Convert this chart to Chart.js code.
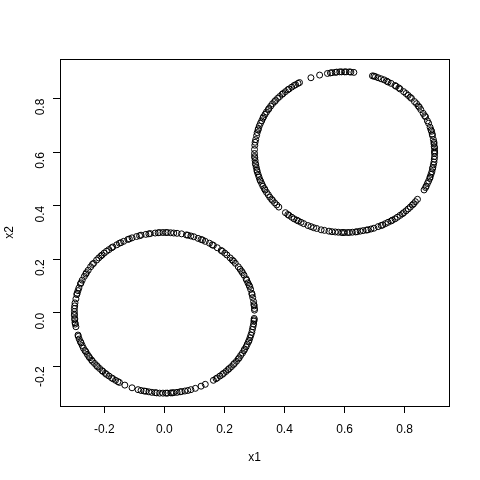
<!DOCTYPE html>
<html>
<head>
<meta charset="utf-8">
<script src="https://cdn.jsdelivr.net/npm/chart.js@4/dist/chart.umd.min.js"></script>
<style>
  html, body { margin: 0; padding: 0; background: #ffffff; }
  #wrap { width: 480px; height: 480px; }
</style>
</head>
<body>
<div id="wrap"><canvas id="chart" width="480" height="480"></canvas></div>
<script>
// points, [x1, x2]
const lowerRing = [
  [0.300,0.010],[0.300,0.016],[0.299,0.026],[0.298,0.031],[0.297,0.042],[0.294,0.057],[0.292,0.068],[0.291,0.073],
  [0.287,0.088],[0.284,0.098],[0.282,0.103],[0.278,0.112],[0.274,0.122],[0.272,0.127],[0.265,0.141],[0.260,0.150],
  [0.257,0.155],[0.252,0.163],[0.246,0.172],[0.236,0.185],[0.230,0.193],[0.226,0.197],[0.219,0.205],[0.208,0.216],
  [0.201,0.223],[0.193,0.230],[0.189,0.233],[0.176,0.243],[0.163,0.252],[0.159,0.254],[0.150,0.260],[0.136,0.267],
  [0.127,0.272],[0.122,0.274],[0.112,0.278],[0.098,0.284],[0.088,0.287],[0.078,0.290],[0.073,0.291],[0.057,0.295],
  [0.042,0.297],[0.031,0.298],[0.021,0.299],[0.010,0.300],[0.005,0.300],
  [-0.005,0.300],[-0.016,0.300],[-0.021,0.299],[-0.031,0.298],[-0.047,0.296],[-0.052,0.295],[-0.062,0.293],[-0.078,0.290],
  [-0.083,0.288],[-0.093,0.285],[-0.108,0.280],[-0.117,0.276],[-0.122,0.274],[-0.136,0.267],[-0.145,0.262],[-0.150,0.260],
  [-0.159,0.254],[-0.172,0.246],[-0.176,0.243],[-0.185,0.236],[-0.193,0.230],[-0.201,0.223],[-0.208,0.216],[-0.212,0.212],
  [-0.219,0.205],[-0.226,0.197],[-0.236,0.185],[-0.240,0.181],[-0.246,0.172],[-0.254,0.159],[-0.260,0.150],[-0.262,0.145],
  [-0.267,0.136],[-0.274,0.122],[-0.278,0.112],[-0.280,0.108],[-0.285,0.093],[-0.288,0.083],[-0.291,0.073],[-0.292,0.068],
  [-0.295,0.052],[-0.298,0.037],[-0.299,0.026],[-0.300,0.016],[-0.300,0.005],
  [-0.300,-0.005],[-0.300,-0.010],[-0.299,-0.021],[-0.299,-0.026],[-0.298,-0.037],[-0.297,-0.042],[-0.295,-0.052],[-0.288,-0.083],
  [-0.287,-0.088],[-0.284,-0.098],[-0.280,-0.108],[-0.278,-0.112],[-0.274,-0.122],[-0.270,-0.132],[-0.265,-0.141],[-0.262,-0.145],
  [-0.257,-0.155],[-0.252,-0.163],[-0.249,-0.168],[-0.243,-0.176],[-0.240,-0.181],[-0.233,-0.189],[-0.226,-0.197],[-0.223,-0.201],
  [-0.216,-0.208],[-0.208,-0.216],[-0.205,-0.219],[-0.197,-0.226],[-0.193,-0.230],[-0.185,-0.236],[-0.176,-0.243],[-0.172,-0.246],
  [-0.163,-0.252],[-0.155,-0.257],[-0.150,-0.260],[-0.132,-0.270],[-0.108,-0.280],[-0.088,-0.287],[-0.078,-0.290],[-0.068,-0.292],
  [-0.062,-0.293],[-0.052,-0.295],[-0.042,-0.297],[-0.031,-0.298],[-0.026,-0.299],[-0.016,-0.300],[-0.005,-0.300],
  [0.005,-0.300],[0.010,-0.300],[0.021,-0.299],[0.026,-0.299],[0.031,-0.298],[0.042,-0.297],[0.052,-0.295],[0.057,-0.294],
  [0.068,-0.292],[0.078,-0.290],[0.088,-0.287],[0.103,-0.282],[0.122,-0.274],[0.136,-0.267],[0.163,-0.252],[0.172,-0.246],
  [0.176,-0.243],[0.185,-0.236],[0.193,-0.230],[0.197,-0.226],[0.205,-0.219],[0.212,-0.212],[0.216,-0.208],[0.223,-0.201],
  [0.230,-0.193],[0.233,-0.189],[0.240,-0.181],[0.246,-0.172],[0.249,-0.168],[0.254,-0.159],[0.260,-0.150],[0.265,-0.141],
  [0.267,-0.136],[0.272,-0.127],[0.276,-0.117],[0.280,-0.108],[0.282,-0.103],[0.285,-0.093],[0.288,-0.083],[0.291,-0.073],
  [0.293,-0.062],[0.295,-0.052],[0.297,-0.042],[0.298,-0.031],[0.299,-0.026],[0.299,-0.021]
];

const upperRing = [
  [0.900,0.600],[0.900,0.605],[0.900,0.616],[0.899,0.621],[0.898,0.631],[0.898,0.637],[0.896,0.647],[0.893,0.662],
  [0.892,0.668],[0.890,0.678],[0.888,0.683],[0.885,0.693],[0.880,0.708],[0.876,0.717],[0.870,0.732],[0.867,0.736],
  [0.862,0.745],[0.854,0.759],[0.849,0.768],[0.846,0.772],[0.840,0.781],[0.833,0.789],[0.823,0.801],[0.819,0.805],
  [0.812,0.812],[0.805,0.819],[0.797,0.826],[0.785,0.836],[0.781,0.840],[0.772,0.846],[0.768,0.849],[0.755,0.857],
  [0.745,0.862],[0.741,0.865],[0.732,0.870],[0.722,0.874],[0.712,0.878],[0.703,0.882],[0.698,0.884],[0.693,0.885],
  [0.631,0.898],[0.621,0.899],[0.616,0.900],[0.605,0.900],
  [0.600,0.900],[0.590,0.900],[0.584,0.900],[0.574,0.899],[0.569,0.898],[0.558,0.897],[0.553,0.896],[0.543,0.894],
  [0.517,0.888],[0.488,0.878],[0.450,0.860],[0.445,0.857],[0.437,0.852],[0.432,0.849],[0.424,0.843],[0.415,0.836],
  [0.411,0.833],[0.403,0.826],[0.395,0.819],[0.392,0.816],[0.384,0.808],[0.377,0.801],[0.370,0.793],[0.367,0.789],
  [0.360,0.781],[0.354,0.772],[0.348,0.763],[0.346,0.759],[0.340,0.750],[0.335,0.741],[0.330,0.732],[0.328,0.727],
  [0.324,0.717],[0.320,0.708],[0.316,0.698],[0.313,0.688],[0.312,0.683],[0.309,0.673],[0.307,0.662],[0.304,0.647],
  [0.302,0.637],[0.301,0.626],[0.300,0.610],
  [0.300,0.595],[0.300,0.584],[0.301,0.579],[0.302,0.569],[0.303,0.558],[0.304,0.553],[0.306,0.543],[0.308,0.533],
  [0.309,0.527],[0.312,0.517],[0.315,0.507],[0.318,0.497],[0.320,0.492],[0.324,0.483],[0.328,0.473],[0.333,0.464],
  [0.335,0.459],[0.340,0.450],[0.346,0.441],[0.351,0.432],[0.357,0.424],[0.360,0.420],[0.367,0.411],[0.374,0.403],
  [0.381,0.395],[0.403,0.374],[0.411,0.367],[0.415,0.364],[0.424,0.357],[0.432,0.351],[0.441,0.346],[0.446,0.343],
  [0.455,0.338],[0.464,0.333],[0.478,0.326],[0.488,0.322],[0.497,0.318],[0.507,0.315],[0.522,0.310],[0.533,0.308],
  [0.548,0.305],[0.558,0.303],[0.569,0.302],[0.579,0.301],[0.590,0.300],[0.595,0.300],
  [0.600,0.300],[0.610,0.300],[0.616,0.300],[0.626,0.301],[0.637,0.302],[0.642,0.303],[0.652,0.305],[0.662,0.307],
  [0.673,0.309],[0.678,0.310],[0.688,0.313],[0.698,0.316],[0.712,0.322],[0.722,0.326],[0.727,0.328],[0.736,0.333],
  [0.745,0.338],[0.755,0.343],[0.759,0.346],[0.768,0.351],[0.776,0.357],[0.785,0.364],[0.793,0.370],[0.797,0.374],
  [0.805,0.381],[0.812,0.388],[0.819,0.395],[0.826,0.403],[0.830,0.407],[0.836,0.415],[0.843,0.424],[0.865,0.459],
  [0.870,0.468],[0.872,0.473],[0.876,0.483],[0.880,0.492],[0.884,0.502],[0.885,0.507],[0.888,0.517],[0.891,0.527],
  [0.893,0.538],[0.894,0.543],[0.896,0.553],[0.898,0.563],[0.899,0.574],[0.900,0.584],[0.900,0.595]
];

const xTicks = [-0.2, 0.0, 0.2, 0.4, 0.6, 0.8];
const yTicks = [-0.2, 0.0, 0.2, 0.4, 0.6, 0.8];
const xLabel = 'x1';
const yLabel = 'x2';
const axisMin = -0.348;
const axisMax = 0.948;

const FONT = { family: '"Liberation Sans", Arial, sans-serif', size: 12 };

function toPoints(arr) {
    return arr.map(p => ({ x: p[0], y: p[1] }));
}

// R style box round the whole plot region
const boxPlugin = {
    id: 'box',
    afterDraw(chart) {
        const a = chart.chartArea;
        const ctx = chart.ctx;
        ctx.save();
        ctx.strokeStyle = '#000';
        ctx.lineWidth = 1;
        ctx.strokeRect(a.left + 0.5, a.top + 0.5, a.right - a.left, a.bottom - a.top);
        ctx.restore();
    }
};

function pointSet(arr) {
    return {
        data: toPoints(arr),
        pointStyle: 'circle',
        pointRadius: 3,
        pointBorderWidth: 1,
        borderColor: '#000',
        backgroundColor: 'rgba(0,0,0,0)',
        showLine: false
    };
}

const tickSetup = (list) => (scale) => {
    scale.ticks = list.map(v => ({ value: v }));
};

new Chart(document.getElementById('chart').getContext('2d'), {
    type: 'scatter',
    data: {
        datasets: [pointSet(lowerRing), pointSet(upperRing)]
    },
    options: {
        responsive: false,
        animation: false,
        layout: { padding: { top: 59, right: 31, left: 0, bottom: 0 } },
        plugins: {
            legend: { display: false },
            tooltip: { enabled: false }
        },
        scales: {
            x: {
                type: 'linear',
                min: axisMin,
                max: axisMax,
                afterBuildTicks: tickSetup(xTicks),
                afterFit: (s) => { s.height = 74; },
                border: { display: false },
                grid: { drawOnChartArea: false, tickLength: 7, color: '#000', lineWidth: 1 },
                ticks: {
                    color: '#000',
                    font: FONT,
                    padding: 9,
                    maxRotation: 0,
                    callback: v => v.toFixed(1)
                },
                title: { display: true, text: xLabel, color: '#000', font: FONT, padding: { top: 0, bottom: 15 } }
            },
            y: {
                type: 'linear',
                min: axisMin,
                max: axisMax,
                afterBuildTicks: tickSetup(yTicks),
                afterFit: (s) => { s.width = 60; },
                border: { display: false },
                grid: { drawOnChartArea: false, tickLength: 7, color: '#000', lineWidth: 1 },
                ticks: {
                    color: '#000',
                    font: FONT,
                    padding: 12,
                    minRotation: 90,
                    maxRotation: 90,
                    callback: v => v.toFixed(1)
                },
                title: { display: true, text: yLabel, color: '#000', font: FONT, padding: { top: 2, bottom: 0 } }
            }
        }
    },
    plugins: [boxPlugin]
});
</script>
</body>
</html>
